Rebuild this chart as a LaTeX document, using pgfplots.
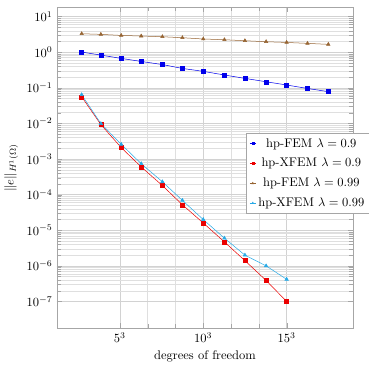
\documentclass[border=0pt]{standalone}
\usepackage{pgfplots}
\pgfplotsset{compat=1.18}
\definecolor{cbrown}{RGB}{150,100,50}
\definecolor{ccyan}{RGB}{40,170,230}
\definecolor{cblue}{RGB}{0,0,235}
\definecolor{cred}{RGB}{235,0,0}
\begin{document}
\begin{tikzpicture}
\begin{axis}[
  scale only axis,
  width=236.8pt, height=256.8pt,
  xmin=1.23, xmax=18.98,
  ymode=log, ymin=1.8e-8, ymax=18.6,
  xtick={5,10,15}, xticklabels={$5^3$,$10^3$,$15^3$},
  minor x tick num=2,
  ytick={1e-7,1e-6,1e-5,1e-4,1e-3,1e-2,1e-1,1,10},
  xmajorgrids, xminorgrids, ymajorgrids, yminorgrids,
  major grid style={gray!35},
  minor grid style={gray!25},
  axis line style={gray!70},
  tick style={gray!70},
  xlabel={degrees of freedom},
  ylabel={$\|e\|_{H^1(\Omega)}$},
  legend cell align=center,
  legend style={at={(0.6375,0.607)}, anchor=north west, draw=gray!70, fill=white, font=\normalsize, row sep=3.4pt},
  legend image code/.code={\draw[mark repeat=2,mark phase=2,#1,mark size=0.8pt] plot coordinates {(0cm,0cm) (0.08cm,0cm) (0.16cm,0cm)};},
]
\addplot[cblue, mark=square*, mark size=1.6pt, line width=0.4pt] coordinates {
(2.71,1.01) (3.86,0.83) (5.08,0.67) (6.28,0.55) (7.55,0.45) (8.75,0.35) (10,0.29) (11.27,0.229) (12.5,0.184) (13.77,0.148) (15,0.12) (16.25,0.096) (17.5,0.078)};
\addlegendentry{hp-FEM $\lambda=0.9$}
\addplot[cred, mark=square*, mark size=1.6pt, line width=0.4pt] coordinates {
(2.71,0.056) (3.86,0.0093) (5.08,0.0021) (6.28,6.0e-4) (7.55,1.8e-4) (8.75,5.2e-5) (10,1.6e-5) (11.27,4.7e-6) (12.5,1.4e-6) (13.77,3.9e-7) (15,1.0e-7)};
\addlegendentry{hp-XFEM $\lambda=0.9$}
\addplot[cbrown, mark=triangle*, mark size=1.6pt, line width=0.4pt] coordinates {
(2.71,3.3) (3.86,3.17) (5.08,2.96) (6.28,2.85) (7.55,2.72) (8.75,2.55) (10,2.35) (11.27,2.24) (12.5,2.1) (13.77,1.97) (15,1.88) (16.25,1.77) (17.5,1.66)};
\addlegendentry{hp-FEM $\lambda=0.99$}
\addplot[ccyan, mark=triangle*, mark size=1.6pt, line width=0.4pt] coordinates {
(2.71,0.064) (3.86,0.0099) (5.08,0.0026) (6.28,7.4e-4) (7.55,2.3e-4) (8.75,6.9e-5) (10,2.0e-5) (11.27,6.0e-6) (12.5,2.0e-6) (13.77,1.0e-6) (15,4.2e-7)};
\addlegendentry{hp-XFEM $\lambda=0.99$}
\end{axis}
\pgfresetboundingbox
\path (-45.6pt,-34.4pt) rectangle (248.8pt,262.4pt);
\end{tikzpicture}
\end{document}
